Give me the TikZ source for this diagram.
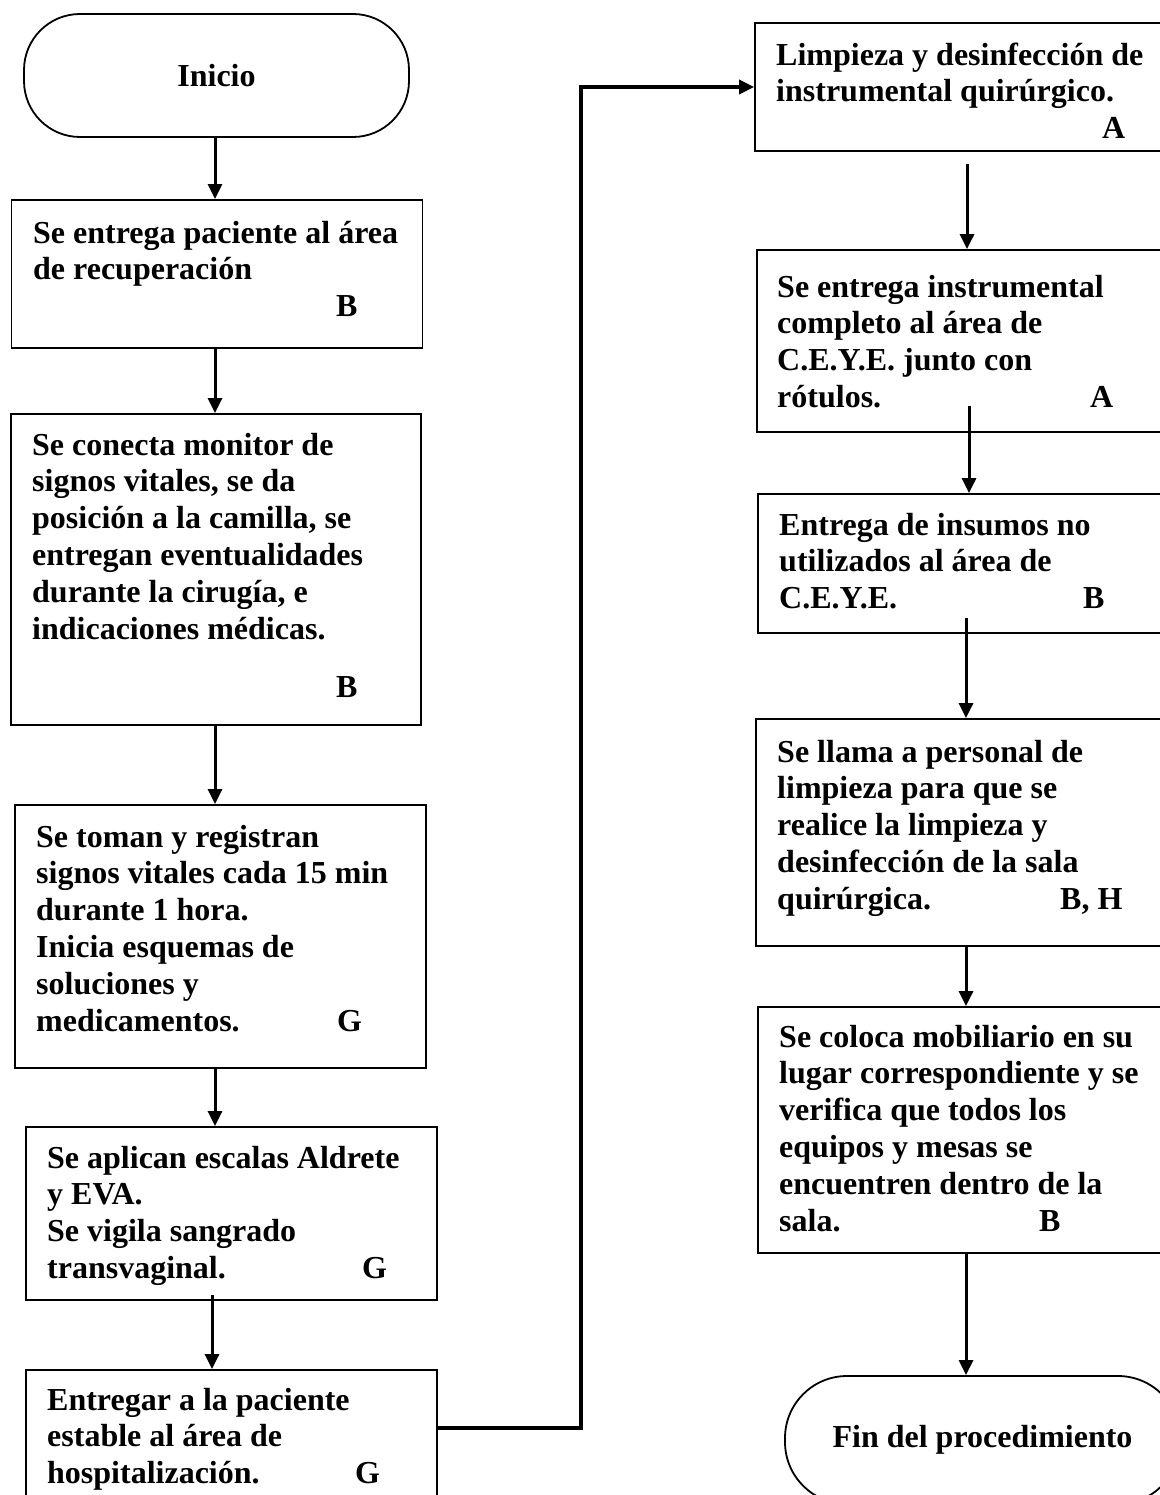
\documentclass[tikz,border=0pt]{standalone}
\usepackage{fontspec}
\setmainfont{Liberation Serif}
\usetikzlibrary{arrows.meta,calc}
\begin{document}
\begin{tikzpicture}[x=1pt,y=-1pt,
  box/.style={draw, line width=1.8pt, rectangle, inner sep=0pt},
  term/.style={draw, line width=1.8pt, rectangle, inner sep=0pt, font=\fontsize{32}{36.8}\selectfont\bfseries},
  txt/.style={anchor=north west, inner sep=0pt, align=left, font=\fontsize{32}{36.8}\selectfont\bfseries},
  arr/.style={line width=3pt, -{Triangle[length=15pt,width=14pt]}},
  longarr/.style={line width=3.6pt, -{Triangle[length=15pt,width=14pt]}}
]
\useasboundingbox (0,0) rectangle (1159,1495);

% terminals
\node[term, rounded corners=56pt, minimum width=385pt, minimum height=123pt] (ini) at (216.5,75.5) {Inicio};
\node[term, rounded corners=62pt, minimum width=395pt, minimum height=128pt] (fin) at (982.5,1440) {Fin del procedimiento};

% left column boxes
\node[box, minimum width=411pt, minimum height=148pt] (b1) at (217,274) {};
\node[box, minimum width=410pt, minimum height=311pt] (b2) at (216,569.5) {};
\node[box, minimum width=411pt, minimum height=263pt] (b3) at (220.5,936.5) {};
\node[box, minimum width=411pt, minimum height=173pt] (b4) at (231.5,1213.5) {};
\node[box, minimum width=411pt, minimum height=130pt] (b5) at (231.5,1435) {};

% right column boxes
\node[box, minimum width=425pt, minimum height=128pt] (b6) at (967.5,87) {};
\node[box, minimum width=423pt, minimum height=182pt] (b7) at (968.5,341) {};
\node[box, minimum width=422pt, minimum height=139pt] (b8) at (969,563.5) {};
\node[box, minimum width=424pt, minimum height=227pt] (b9) at (968,832.5) {};
\node[box, minimum width=422pt, minimum height=246pt] (b10) at (969,1130) {};

% texts
\node[txt] (t1) at (33,217.2) {\strut Se entrega paciente al área\\ de recuperación\\ \hspace*{303pt}B};
\node[txt] (t2) at (32,429.2) {\strut Se conecta monitor de\\ signos vitales, se da\\ posición a la camilla, se\\ entregan eventualidades\\ durante la cirugía, e\\ indicaciones médicas.\\[21.2pt] \hspace*{304pt}B};
\node[txt] (t3) at (36,821.2) {\strut Se toman y registran\\ signos vitales cada 15 min\\ durante 1 hora.\\ Inicia esquemas de\\ soluciones y\\ \makebox[301pt][l]{medicamentos.}G};
\node[txt] (t4) at (47,1142.2) {\strut Se aplican escalas Aldrete\\ y EVA.\\ Se vigila sangrado\\ \makebox[315pt][l]{transvaginal.}G};
\node[txt] (t5) at (47,1384.2) {\strut Entregar a la paciente\\ estable al área de\\ \makebox[308pt][l]{hospitalización.}G};
\node[txt] (t6) at (776,39.2) {\strut Limpieza y desinfección de\\ instrumental quirúrgico.\\ \hspace*{326pt}A};
\node[txt] (t7) at (777,271.2) {\strut Se entrega instrumental\\ completo al área de\\ C.E.Y.E. junto con\\ \makebox[313pt][l]{rótulos.}A};
\node[txt] (t8) at (779,509.2) {\strut Entrega de insumos no\\ utilizados al área de\\ \makebox[304pt][l]{C.E.Y.E.}B};
\node[txt] (t9) at (777,736.2) {\strut Se llama a personal de\\ limpieza para que se\\ realice la limpieza y\\ desinfección de la sala\\ \makebox[283pt][l]{quirúrgica.}B, H};
\node[txt] (t10) at (779,1021.2) {\strut Se coloca mobiliario en su\\ lugar correspondiente y se\\ verifica que todos los\\ equipos y mesas se\\ encuentren dentro de la\\ \makebox[260pt][l]{sala.}B};

% column guides
\coordinate (cl) at (215,0);
\coordinate (cl2) at (212,0);
\coordinate (cr) at (967,0);
\coordinate (cr2) at (969,0);
\coordinate (cr3) at (966,0);
\coordinate (k) at (581,1428);

% connectors
\draw[arr] (ini.south -| cl) -- (b1.north -| cl);
\draw[arr] (b1.south -| cl) -- (b2.north -| cl);
\draw[arr] (b2.south -| cl) -- (b3.north -| cl);
\draw[arr] (b3.south -| cl) -- (b4.north -| cl);
\draw[arr] ($(b4.south -| cl2)+(0,-6)$) -- (b5.north -| cl2);
\draw[longarr] (b5.east |- k) -- (k) |- (b6.west);
\draw[arr] ($(b6.south -| cr)+(0,12)$) -- (b7.north -| cr);
\draw[arr] ($(b7.south -| cr2)+(0,-27)$) -- (b8.north -| cr2);
\draw[arr] ($(b8.south -| cr3)+(0,-16)$) -- (b9.north -| cr3);
\draw[arr] (b9.south -| cr3) -- (b10.north -| cr3);
\draw[arr] (b10.south -| cr3) -- (fin.north -| cr3);
\end{tikzpicture}
\end{document}
